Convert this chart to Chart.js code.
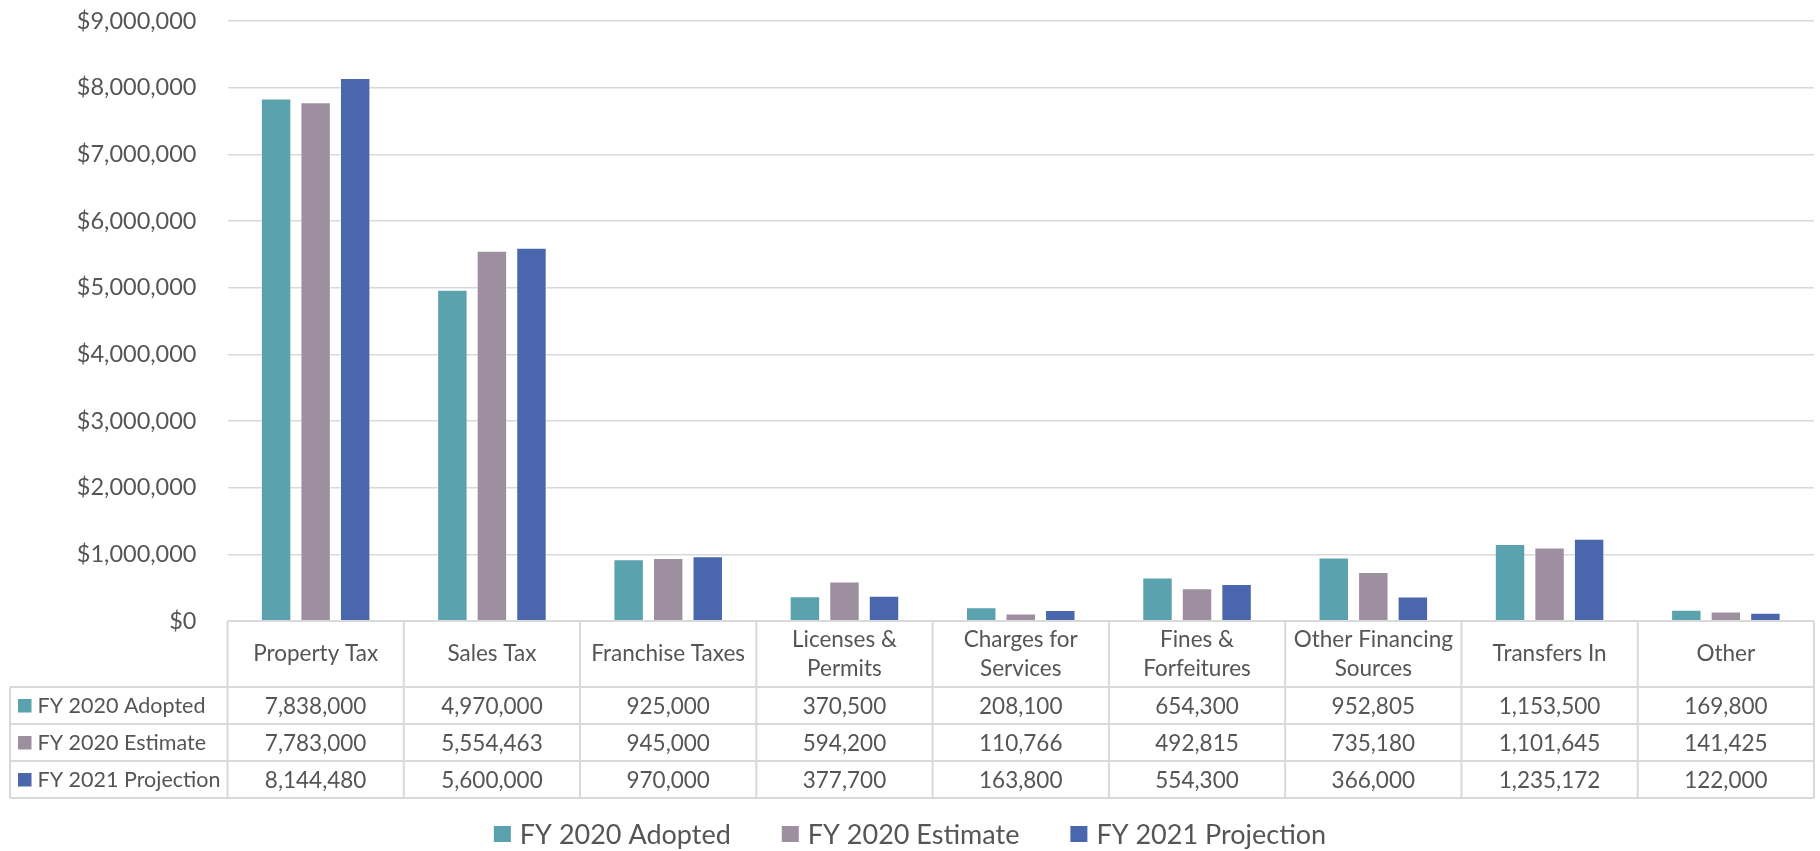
<!DOCTYPE html>
<html>
<head>
<meta charset="utf-8">
<script src="https://cdn.jsdelivr.net/npm/chart.js@4.4.0/dist/chart.umd.min.js"></script>
<style>
  html, body { margin: 0; padding: 0; background: #ffffff; }
  #wrap { width: 1820px; height: 851px; position: relative; }
</style>
</head>
<body>
<div id="wrap"><canvas id="c"></canvas></div>
<script>
const categories = [
  ["Property Tax"], ["Sales Tax"], ["Franchise Taxes"], ["Licenses &", "Permits"],
  ["Charges for", "Services"], ["Fines &", "Forfeitures"], ["Other Financing", "Sources"],
  ["Transfers In"], ["Other"]
];
const seriesNames = ["FY 2020 Adopted", "FY 2020 Estimate", "FY 2021 Projection"];
const adopted    = [7838000, 4970000, 925000, 370500, 208100, 654300, 952805, 1153500, 169800];
const estimate   = [7783000, 5554463, 945000, 594200, 110766, 492815, 735180, 1101645, 141425];
const projection = [8144480, 5600000, 970000, 377700, 163800, 554300, 366000, 1235172, 122000];
const seriesColors = ["#5AA2AE", "#9E8FA0", "#4A66AC"];
const yMin = 0, yMax = 9000000, yStep = 1000000;

const FONT = "Lato, 'Open Sans', sans-serif";
const TEXT = "#555555";
const LINE = "#D9D9D9";

const tablePlugin = {
  id: "dataTable",
  afterDraw(chart) {
    const ctx = chart.ctx;
    const area = chart.chartArea;
    const xs = chart.scales.x;
    const n = categories.length;
    const colW = (area.right - area.left) / n;
    const top = area.bottom;
    const headerH = 66, rowH = 37, tableLeft = 10;
    const rows = chart.data.datasets;
    const bottom = top + headerH + rowH * rows.length;

    ctx.save();
    ctx.strokeStyle = LINE;
    ctx.lineWidth = 2;
    ctx.beginPath();
    ctx.moveTo(area.left, top); ctx.lineTo(area.right, top);
    for (let k = 0; k <= rows.length; k++) {
      const y = top + headerH + rowH * k;
      ctx.moveTo(tableLeft, y); ctx.lineTo(area.right, y);
    }
    ctx.moveTo(tableLeft, top + headerH); ctx.lineTo(tableLeft, bottom);
    for (let i = 0; i <= n; i++) {
      const x = area.left + i * colW;
      ctx.moveTo(x, top); ctx.lineTo(x, bottom);
    }
    ctx.stroke();

    ctx.fillStyle = TEXT;
    ctx.font = "22.5px " + FONT;
    ctx.textAlign = "center";
    ctx.textBaseline = "middle";
    const hc = top + headerH / 2;
    categories.forEach((lines, i) => {
      const cx = xs.getPixelForValue(i);
      const lh = 29.5;
      lines.forEach((t, j) => {
        const y = hc + (j - (lines.length - 1) / 2) * lh;
        ctx.fillText(t, cx, y);
      });
    });

    rows.forEach((ds, r) => {
      const cy = top + headerH + rowH * r + rowH / 2;
      ctx.fillStyle = ds.backgroundColor;
      ctx.fillRect(18, cy - 6.5, 13.5, 13.5);
      ctx.fillStyle = TEXT;
      ctx.textAlign = "left";
      ctx.font = "21.5px " + FONT;
      ctx.fillText(ds.label, 37.5, cy + 1);
      ctx.font = "22.5px " + FONT;
      ctx.textAlign = "center";
      ds.data.forEach((v, i) => {
        ctx.fillText(v.toLocaleString("en-US"), xs.getPixelForValue(i), cy + 1);
      });
    });

    // legend
    ctx.font = "27px " + FONT;
    const box = 17, gapText = 9, gapItem = 51;
    const widths = rows.map(ds => ctx.measureText(ds.label).width);
    let total = 0;
    widths.forEach((w, i) => { total += box + gapText + w + (i < widths.length - 1 ? gapItem : 0); });
    let x = (chart.width - total) / 2;
    const ly = 834;
    rows.forEach((ds, i) => {
      ctx.fillStyle = ds.backgroundColor;
      ctx.fillRect(x, ly - 8, box, box - 1);
      ctx.fillStyle = TEXT;
      ctx.textAlign = "left";
      ctx.fillText(ds.label, x + box + gapText, ly + 1);
      x += box + gapText + widths[i] + gapItem;
    });
    ctx.restore();
  }
};

const seriesValues = [adopted, estimate, projection];
new Chart(document.getElementById("c"), {
  type: "bar",
  data: {
    labels: categories,
    datasets: seriesNames.map((name, i) => ({
      label: name,
      data: seriesValues[i],
      backgroundColor: seriesColors[i],
      borderColor: "rgba(255,255,255,0.5)",
      borderWidth: 1,
      categoryPercentage: 0.673,
      barPercentage: 0.77
    }))
  },
  options: {
    responsive: true,
    maintainAspectRatio: false,
    animation: false,
    layout: { padding: { top: 21, right: 6, bottom: 53, left: 0 } },
    plugins: { legend: { display: false }, tooltip: { enabled: false } },
    scales: {
      x: {
        grid: { display: false },
        border: { display: false },
        ticks: { display: false },
        afterFit(axis) { axis.height = 177; axis.paddingLeft = 0; axis.paddingRight = 0; }
      },
      y: {
        min: yMin, max: yMax,
        border: { display: false },
        grid: { color: LINE, lineWidth: 1.5, drawTicks: false },
        ticks: {
          stepSize: yStep,
          padding: 31,
          color: TEXT,
          font: { family: FONT, size: 23.5 },
          callback: v => "$" + v.toLocaleString("en-US")
        },
        afterFit(axis) { axis.width = 227.5; axis.paddingTop = 0; axis.paddingBottom = 0; }
      }
    }
  },
  plugins: [tablePlugin]
});
</script>
</body>
</html>
